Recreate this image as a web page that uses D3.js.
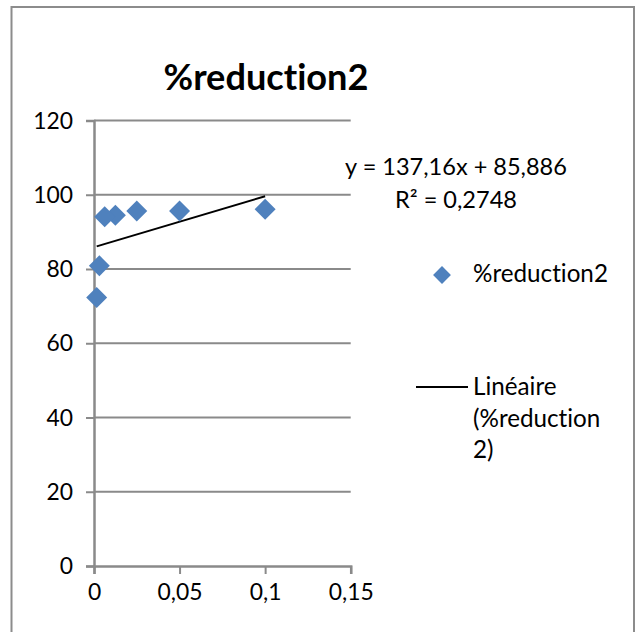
<!DOCTYPE html>
<html>
<head>
<meta charset="utf-8">
<script src="https://cdn.jsdelivr.net/npm/d3@7"></script>
<style>
  html, body { margin: 0; padding: 0; background: #fff; }
  svg { display: block; }
  text { font-family: Lato, "Open Sans", sans-serif; fill: #000;
         font-variant-ligatures: none; font-feature-settings: "liga" 0, "clig" 0; }
</style>
</head>
<body>
<svg id="chart" width="635" height="632"></svg>
<script>
// Concentration (x) and % reduction (y)
const concentrations = [0.1, 0.05, 0.025, 0.0125, 0.00625, 0.003125, 0.0015625];
const reductions     = [96.1, 95.6, 95.6, 94.5, 94.1, 80.9, 72.3];
const xTicks = [0, 0.05, 0.1, 0.15];
const yTicks = [0, 20, 40, 60, 80, 100, 120];
const xTickLabels = ["0", "0,05", "0,1", "0,15"];
const trendSlope = 137.16;
const trendIntercept = 85.886;
const equationLines = ["y = 137,16x + 85,886", "R² = 0,2748"];
const seriesName = "%reduction2";
const trendLegendLines = ["Linéaire", "(%reduction", "2)"];
const chartTitle = "%reduction2";

const svg = d3.select("#chart");
const gridColor = "#8a8a8a";
const markerColor = "#4f81bd";

// Font sizing helper: scale a font so a given string spans the desired width
function fitSize(str, weight, width) {
  const t = svg.append("text").attr("font-size", 100).attr("font-weight", weight).text(str);
  const w = t.node().getComputedTextLength();
  t.remove();
  return 100 * width / w;
}
const tickSize = fitSize("0,05", "normal", 45);
const titleSize = fitSize(chartTitle, "bold", 205);
const eqSize = fitSize(equationLines[0], "normal", 222);
const legSize = fitSize(seriesName, "normal", 135);

// chart frame
svg.append("rect")
  .attr("x", 11.5).attr("y", 7).attr("width", 622.5).attr("height", 640)
  .attr("fill", "#fff").attr("stroke", "#8c8c8c").attr("stroke-width", 2);

const x = d3.scaleLinear().domain([0, 0.15]).range([94, 350.7]);
const y = d3.scaleLinear().domain([0, 120]).range([566, 120.5]);

// horizontal gridlines
svg.append("g").selectAll("line").data(yTicks.filter(v => v > 0)).join("line")
  .attr("x1", x(0)).attr("x2", x(0.15))
  .attr("y1", d => y(d)).attr("y2", d => y(d))
  .attr("stroke", gridColor).attr("stroke-width", 2);

// y axis
const yAxis = d3.axisLeft(y).tickValues(yTicks).tickSize(8).tickPadding(13)
  .tickFormat(d3.format("d"));
const gy = svg.append("g").attr("transform", `translate(${x(0)},0)`).call(yAxis);
gy.select(".domain").attr("stroke", gridColor).attr("stroke-width", 2.5);
gy.selectAll(".tick line").attr("stroke", gridColor).attr("stroke-width", 2);
gy.selectAll(".tick text").attr("font-size", tickSize).attr("font-family", "Lato")
  .attr("fill", "#000").attr("dy", "0.33em");

// x axis
const xAxis = d3.axisBottom(x).tickValues(xTicks).tickSize(8).tickPadding(10)
  .tickFormat((d, i) => xTickLabels[i]);
const gx = svg.append("g").attr("transform", `translate(0,${y(0)})`).call(xAxis);
gx.select(".domain").attr("stroke", gridColor).attr("stroke-width", 2.5);
gx.selectAll(".tick line").attr("stroke", gridColor).attr("stroke-width", 2);
gx.selectAll(".tick text").attr("font-size", tickSize).attr("font-family", "Lato")
  .attr("fill", "#000").attr("dy", "0.72em");

// linear trendline
const xMin = d3.min(concentrations), xMax = d3.max(concentrations);
svg.append("line")
  .attr("x1", x(xMin)).attr("y1", y(trendSlope * xMin + trendIntercept))
  .attr("x2", x(xMax)).attr("y2", y(trendSlope * xMax + trendIntercept))
  .attr("stroke", "#000").attr("stroke-width", 2);

// diamond markers
const diamond = d3.symbol().type(d3.symbolSquare).size(220);
const pts = concentrations.map((c, i) => ({ c, r: reductions[i] }));
svg.append("g").selectAll("path").data(pts).join("path")
  .attr("d", diamond)
  .attr("transform", d => `translate(${x(d.c)},${y(d.r)}) rotate(45)`)
  .attr("fill", markerColor);

// title
svg.append("text").attr("x", 266).attr("y", 90).attr("text-anchor", "middle")
  .attr("font-size", titleSize).attr("font-weight", "bold").text(chartTitle);

// regression equation
svg.append("g").selectAll("text").data(equationLines).join("text")
  .attr("x", 456).attr("y", (d, i) => 175 + i * 33.3)
  .attr("text-anchor", "middle").attr("font-size", eqSize).text(d => d);

// legend
svg.append("path").attr("d", diamond)
  .attr("transform", "translate(442,275) rotate(45) scale(0.85)")
  .attr("fill", markerColor);
svg.append("text").attr("x", 473).attr("y", 282).attr("font-size", legSize).text(seriesName);
svg.append("line").attr("x1", 416).attr("x2", 468).attr("y1", 387).attr("y2", 387)
  .attr("stroke", "#000").attr("stroke-width", 2);
svg.append("g").selectAll("text").data(trendLegendLines).join("text")
  .attr("x", 473).attr("y", (d, i) => 395 + i * 31.5)
  .attr("font-size", legSize).text(d => d);
</script>
</body>
</html>
